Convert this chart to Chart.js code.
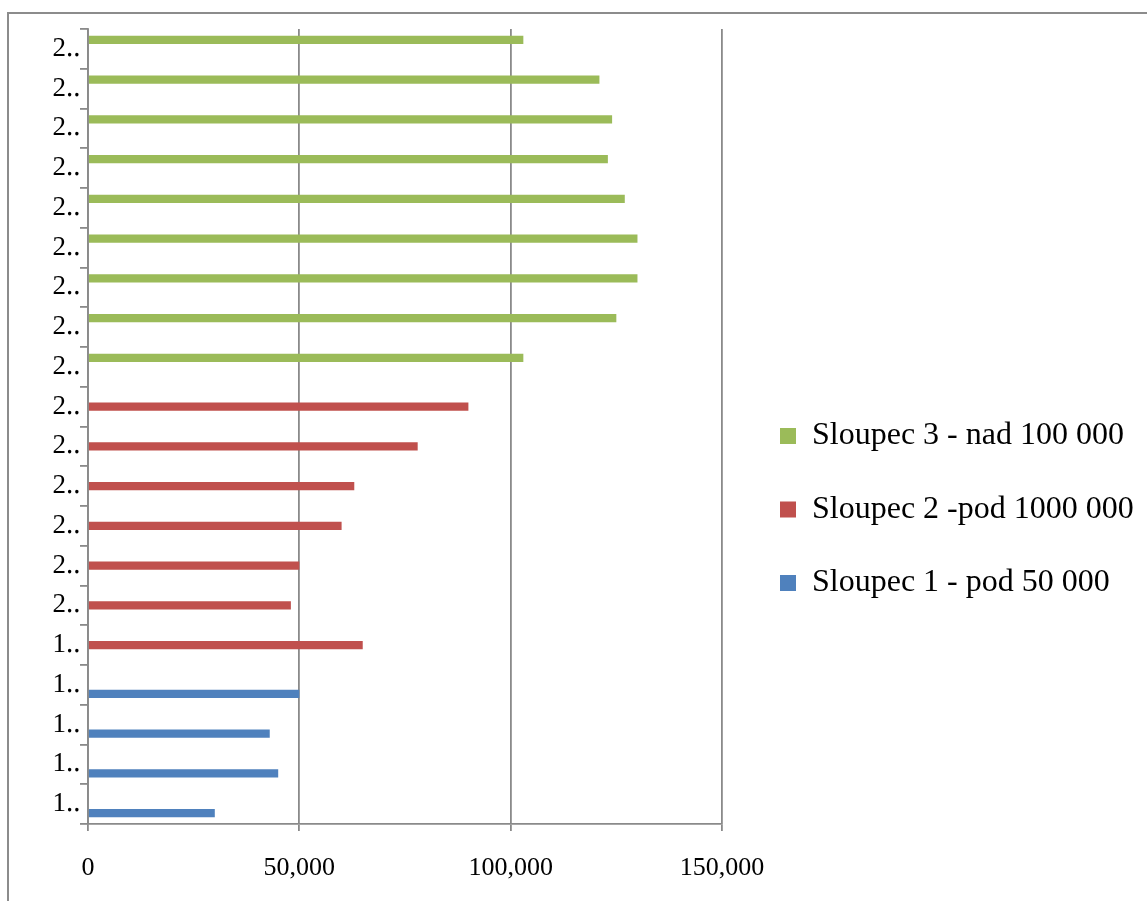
<!DOCTYPE html>
<html>
<head>
<meta charset="utf-8">
<title>Sloupce</title>
<script src="https://cdn.jsdelivr.net/npm/chart.js@4/dist/chart.umd.min.js"></script>
<style>
	html, body { margin: 0; padding: 0; background: #fff; overflow: hidden; }
	#frame { position: absolute; left: 7px; top: 12px; width: 1300px; height: 1100px;
		border-left: 2px solid #8c8c8c; border-top: 2px solid #8c8c8c; }
	#wrap { position: absolute; left: 0; top: 0; width: 1147px; height: 990px; }
</style>
</head>
<body>
<div id="frame"></div>
<div id="wrap"><canvas id="mycanvas"></canvas></div>
<script>
// categories from the bottom of the chart upwards (labels are cut off in the original)
var labels = ['1\u2025', '1\u2025', '1\u2025', '1\u2025', '1\u2025', '2\u2025', '2\u2025', '2\u2025', '2\u2025', '2\u2025',
	'2\u2025', '2\u2025', '2\u2025', '2\u2025', '2\u2025', '2\u2025', '2\u2025', '2\u2025', '2\u2025', '2\u2025'];

var sloupec1 = [30000, 45000, 43000, 50000, null, null, null, null, null, null,
	null, null, null, null, null, null, null, null, null, null];
var sloupec2 = [null, null, null, null, 65000, 48000, 50000, 60000, 63000, 78000,
	90000, null, null, null, null, null, null, null, null, null];
var sloupec3 = [null, null, null, null, null, null, null, null, null, null,
	null, 103000, 125000, 130000, 130000, 127000, 123000, 124000, 121000, 103000];

var xTicks = [0, 50000, 100000, 150000];

var serif = '"Liberation Serif", "Times New Roman", serif';
var grey = '#8a8a8a';

// the legend is wider than chart.js allows for a side box, so widen it after fit
var legendWidth = {
	id: 'legendWidth',
	beforeLayout: function(chart) {
		var lg = chart.legend;
		if (lg && !lg._wide) {
			var fit = lg.fit;
			lg.fit = function() {
				fit.call(this);
				this.width = 408.5;
			};
			lg._wide = true;
		}
	}
};

var ctx = document.getElementById('mycanvas');

var barGraph = new Chart(ctx, {
	type: 'bar',
	data: {
		labels: labels,
		datasets: [
			{ label: 'Sloupec 3 - nad 100 000', backgroundColor: '#9bbb59', data: sloupec3 },
			{ label: 'Sloupec 2 -pod 1000 000', backgroundColor: '#c0504d', data: sloupec2 },
			{ label: 'Sloupec 1 - pod 50 000', backgroundColor: '#4f81bd', data: sloupec1 }
		]
	},
	plugins: [legendWidth],
	options: {
		indexAxis: 'y',
		responsive: true,
		maintainAspectRatio: false,
		animation: false,
		categoryPercentage: 0.68,
		barPercentage: 0.94,
		layout: { padding: { left: 0, top: 29, right: 0, bottom: 0 } },
		scales: {
			x: {
				min: xTicks[0],
				max: xTicks[xTicks.length - 1],
				afterFit: function(s) { s.height = 166; },
				afterBuildTicks: function(s) { s.ticks = xTicks.map(function(v) { return { value: v }; }); },
				grid: { color: grey, lineWidth: 1.8, tickLength: 7 },
				border: { color: grey, width: 1.8 },
				ticks: {
					color: '#000',
					padding: 22,
					font: { family: serif, size: 26 },
					callback: function(v) { return v.toLocaleString('en-US'); }
				}
			},
			y: {
				reverse: true,
				afterFit: function(s) { s.width = 88; },
				grid: { color: grey, lineWidth: 1.8, drawOnChartArea: false, tickLength: 8 },
				border: { color: grey, width: 1.8 },
				ticks: { color: '#000', padding: 0, font: { family: serif, size: 27 } }
			},
			// empty axis, only keeps the legend away from the plot
			yPad: {
				type: 'category',
				axis: 'y',
				position: 'right',
				afterFit: function(s) { s.width = 16.5; },
				grid: { display: false },
				border: { display: false },
				ticks: { display: false }
			}
		},
		plugins: {
			legend: {
				position: 'right',
				labels: {
					color: '#000',
					boxWidth: 16,
					boxHeight: 16,
					padding: 41.5,
					font: { family: serif, size: 32 }
				}
			},
			tooltip: { enabled: false }
		}
	}
});
</script>
</body>
</html>
